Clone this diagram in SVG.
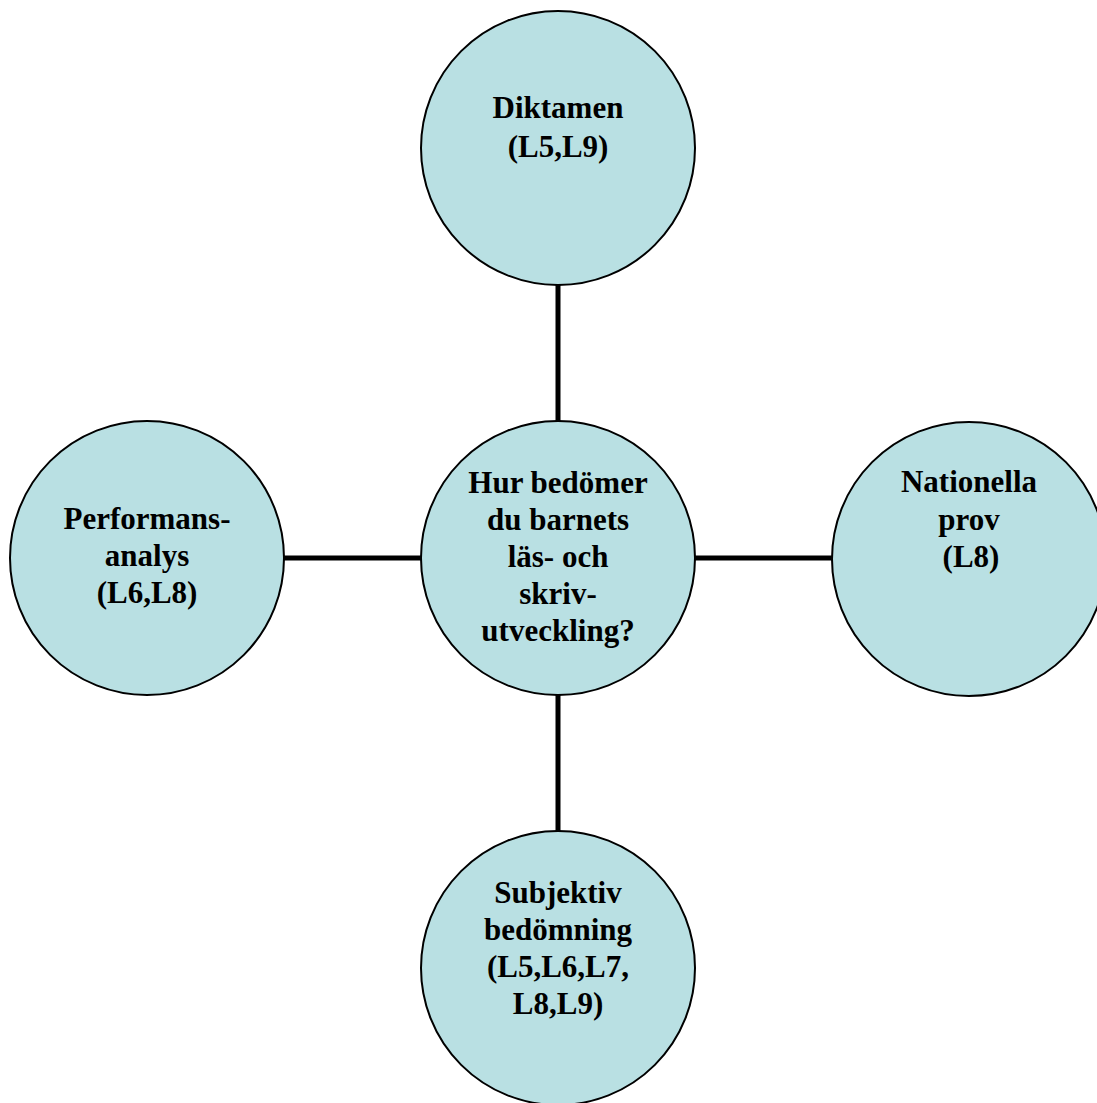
<svg xmlns="http://www.w3.org/2000/svg" width="1097" height="1103" viewBox="0 0 1097 1103">
<style>
.n{fill:#B9E0E3;stroke:#000;stroke-width:2}
.t{font-family:"Liberation Serif","Times New Roman",serif;font-weight:bold;font-size:31px;fill:#000;text-anchor:middle}
.c{stroke:#000;stroke-width:5;fill:none}
</style>
<rect width="1097" height="1103" fill="#fff"/>
<g id="connectors">
<line class="c" x1="558" y1="285" x2="558" y2="421"/>
<line class="c" x1="284" y1="558" x2="421" y2="558"/>
<line class="c" x1="695" y1="558" x2="832" y2="558"/>
<line class="c" x1="558" y1="695" x2="558" y2="831"/>
</g>
<g id="node-top">
<circle class="n" cx="558" cy="148" r="137"/>
<text class="t" x="558" y="118">Diktamen</text>
<text class="t" x="558" y="157">(L5,L9)</text>
</g>
<g id="node-center">
<circle class="n" cx="558" cy="558" r="137"/>
<text class="t" x="558" y="493">Hur bedömer</text>
<text class="t" x="558" y="530">du barnets</text>
<text class="t" x="558" y="567">läs- och</text>
<text class="t" x="558" y="604">skriv-</text>
<text class="t" x="558" y="641">utveckling?</text>
</g>
<g id="node-left">
<circle class="n" cx="147" cy="558" r="137"/>
<text class="t" x="147" y="529">Performans-</text>
<text class="t" x="147" y="566">analys</text>
<text class="t" x="147" y="603">(L6,L8)</text>
</g>
<g id="node-right">
<circle class="n" cx="969" cy="559" r="137"/>
<text class="t" x="969" y="492">Nationella</text>
<text class="t" x="969" y="530">prov</text>
<text class="t" x="971" y="567">(L8)</text>
</g>
<g id="node-bottom">
<circle class="n" cx="558" cy="968" r="137"/>
<text class="t" x="558" y="903">Subjektiv</text>
<text class="t" x="558" y="940">bedömning</text>
<text class="t" x="558" y="977">(L5,L6,L7,</text>
<text class="t" x="558" y="1014">L8,L9)</text>
</g>
</svg>
